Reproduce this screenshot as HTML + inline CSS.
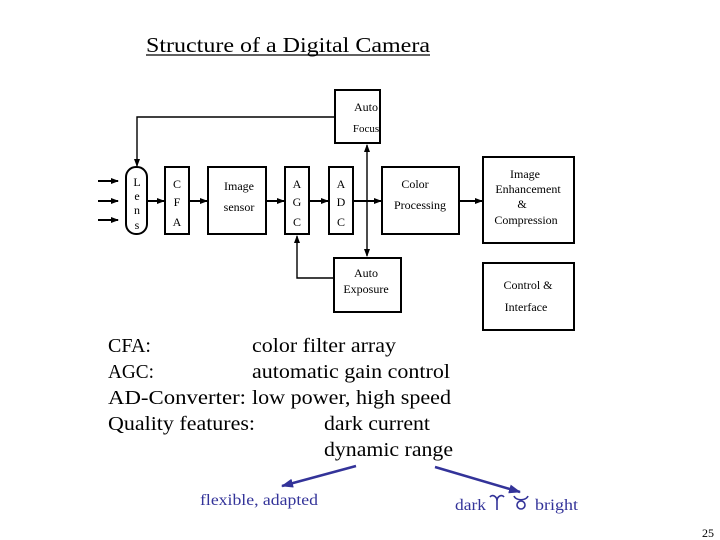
<!DOCTYPE html>
<html><head><style>
html,body{margin:0;padding:0;background:#fff;}
svg{display:block;}
.t{font-family:"Liberation Serif","Times New Roman",serif;}
</style></head><body>
<svg width="720" height="540" viewBox="0 0 720 540" xmlns="http://www.w3.org/2000/svg">
<defs>
<marker id="a" markerWidth="8" markerHeight="6" refX="7" refY="3" orient="auto" markerUnits="userSpaceOnUse"><path d="M0,0 L8,3 L0,6 z" fill="#000"/></marker>
<marker id="b" markerWidth="12" markerHeight="9" refX="11" refY="4.5" orient="auto" markerUnits="userSpaceOnUse"><path d="M0,0 L12,4.5 L0,9 z" fill="#333399"/></marker>
</defs>
<text class="t" x="146" y="52" font-size="21" textLength="284" lengthAdjust="spacingAndGlyphs">Structure of a Digital Camera</text>
<line x1="146" y1="55" x2="430" y2="55" stroke="#000" stroke-width="1.2"/>
<g fill="none" stroke="#000" stroke-width="2">
<rect x="335" y="90" width="45" height="53"/>
<rect x="126" y="167" width="21" height="67" rx="10"/>
<rect x="165" y="167" width="24" height="67"/>
<rect x="208" y="167" width="58" height="67"/>
<rect x="285" y="167" width="24" height="67"/>
<rect x="329" y="167" width="24" height="67"/>
<rect x="382" y="167" width="77" height="67"/>
<rect x="483" y="157" width="91" height="86"/>
<rect x="334" y="258" width="67" height="54"/>
<rect x="483" y="263" width="91" height="67"/>
</g>
<g stroke="#000" stroke-width="1.4" fill="none">
<polyline points="335,117 137,117 137,166" marker-end="url(#a)"/>
<polyline points="334,278 297,278 297,236" marker-end="url(#a)"/>
<line x1="367" y1="201" x2="367" y2="145" marker-end="url(#a)"/>
<line x1="367" y1="201" x2="367" y2="256" marker-end="url(#a)"/>
</g>
<g stroke="#000" stroke-width="2" fill="none">
<line x1="98" y1="181" x2="118" y2="181" marker-end="url(#a)"/>
<line x1="98" y1="201" x2="118" y2="201" marker-end="url(#a)"/>
<line x1="98" y1="220" x2="118" y2="220" marker-end="url(#a)"/>
<line x1="147" y1="201" x2="164" y2="201" marker-end="url(#a)"/>
<line x1="189" y1="201" x2="207" y2="201" marker-end="url(#a)"/>
<line x1="266" y1="201" x2="284" y2="201" marker-end="url(#a)"/>
<line x1="309" y1="201" x2="328" y2="201" marker-end="url(#a)"/>
<line x1="353" y1="201" x2="381" y2="201" marker-end="url(#a)"/>
<line x1="459" y1="201" x2="482" y2="201" marker-end="url(#a)"/>
</g>
<g class="t" font-size="12" text-anchor="middle" fill="#000">
<text x="366" y="111">Auto</text><text x="366" y="132" font-size="11">Focus</text>
<text x="137" y="186">L</text><text x="137" y="200">e</text><text x="137" y="214">n</text><text x="137" y="229">s</text>
<text x="177" y="188">C</text><text x="177" y="206">F</text><text x="177" y="226">A</text>
<text x="239" y="190">Image</text><text x="239" y="211">sensor</text>
<text x="415" y="188">Color</text><text x="420" y="209">Processing</text>
<text x="297" y="188">A</text><text x="297" y="206">G</text><text x="297" y="226">C</text>
<text x="341" y="188">A</text><text x="341" y="206">D</text><text x="341" y="226">C</text>
<text x="525" y="178">Image</text><text x="528" y="193">Enhancement</text><text x="522" y="208">&amp;</text><text x="526" y="224">Compression</text>
<text x="366" y="277">Auto</text><text x="366" y="293">Exposure</text>
<text x="528" y="289">Control &amp;</text><text x="526" y="311">Interface</text>
</g>
<g class="t" font-size="20" fill="#000">
<text x="108" y="352" textLength="43" lengthAdjust="spacingAndGlyphs">CFA:</text><text x="252" y="352" textLength="144" lengthAdjust="spacingAndGlyphs">color filter array</text>
<text x="108" y="378" textLength="46" lengthAdjust="spacingAndGlyphs">AGC:</text><text x="252" y="378" textLength="198" lengthAdjust="spacingAndGlyphs">automatic gain control</text>
<text x="108" y="404" textLength="138" lengthAdjust="spacingAndGlyphs">AD-Converter:</text><text x="252" y="404" textLength="199" lengthAdjust="spacingAndGlyphs">low power, high speed</text>
<text x="108" y="430" textLength="147" lengthAdjust="spacingAndGlyphs">Quality features:</text><text x="324" y="430" textLength="106" lengthAdjust="spacingAndGlyphs">dark current</text>
<text x="324" y="456" textLength="129" lengthAdjust="spacingAndGlyphs">dynamic range</text>
</g>
<g stroke="#333399" stroke-width="2.5">
<line x1="356" y1="466" x2="282" y2="486" marker-end="url(#b)"/>
<line x1="435" y1="467" x2="520" y2="492" marker-end="url(#b)"/>
</g>
<g class="t" font-size="16" fill="#333399">
<text x="200" y="505" textLength="118" lengthAdjust="spacingAndGlyphs">flexible, adapted</text>
<text x="455" y="510" textLength="31" lengthAdjust="spacingAndGlyphs">dark</text>
<text x="535" y="510" textLength="43" lengthAdjust="spacingAndGlyphs">bright</text>
</g>
<g fill="none" stroke="#333399" stroke-width="1.6">
<path d="M497,510 L497,501 C497,496 492,494 490,497 M497,501 C497,496 502,494 504,497"/>
<circle cx="521" cy="505" r="4"/>
<path d="M514,496 C516,501 526,501 528,496"/>
</g>
<text class="t" x="702" y="537" font-size="12" fill="#000">25</text>
</svg>
</body></html>
